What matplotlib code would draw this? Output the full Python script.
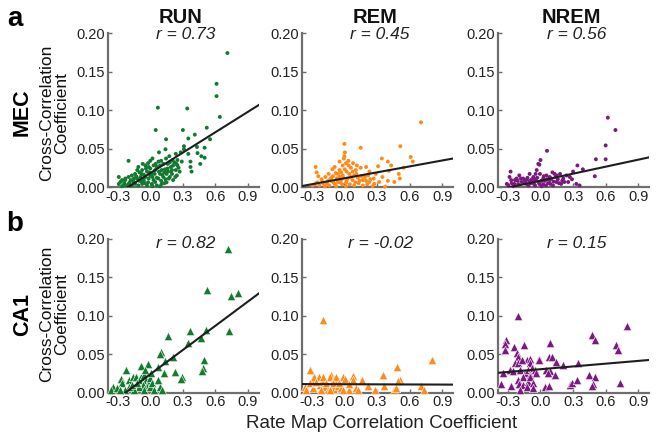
import numpy as np
import matplotlib
matplotlib.use("Agg")
import matplotlib.pyplot as plt

plt.rcParams['font.family'] = ['Liberation Sans', 'DejaVu Sans']

# --- data ------------------------------------------------------------------
regions = ['MEC', 'CA1']
states = ['RUN', 'REM', 'NREM']
r_values = [['0.73', '0.45', '0.56'], ['0.82', '-0.02', '0.15']]
xticks = [-0.3, 0.0, 0.3, 0.6, 0.9]
yticks = [0.00, 0.05, 0.10, 0.15, 0.20]

# regression lines (slope, intercept) as drawn in the figure
fit_slope = [[0.0885, 0.0257, 0.0303], [0.105, -0.0005, 0.012]]
fit_icpt = [[0.0181, 0.0113, 0.0082], [0.024, 0.011, 0.0305]]

# MEC, RUN
mec_run = [(0.71, 0.174), (0.61, 0.134), (0.61, 0.118), (0.64, 0.091), (0.07, 0.103), (0.34, 0.102),
           (0.05, 0.074), (0.30, 0.074), (0.52, 0.077), (0.145, 0.062), (0.41, 0.068), (0.35, 0.063),
           (0.55, 0.062), (0.31, 0.053), (0.43, 0.052), (0.31, 0.049), (0.14, 0.049), (0.50, 0.051),
           (0.35, 0.043), (0.435, 0.044), (0.47, 0.040), (0.145, 0.037), (0.235, 0.043), (0.50, 0.038),
           (0.205, 0.035), (0.175, 0.040), (-0.20, 0.034), (0.02, 0.037), (0.29, 0.033), (0.37, 0.033),
           (0.37, 0.026), (0.46, 0.030), (0.38, 0.020), (0.25, 0.028), (0.235, 0.022), (0.19, 0.026),
           (0.12, 0.030), (0.075, 0.033), (0.0, 0.034), (-0.015, 0.026), (0.045, 0.022), (0.09, 0.017),
           (0.135, 0.023), (0.20, 0.017), (0.245, 0.015), (-0.045, 0.028), (-0.11, 0.026), (-0.075, 0.022),
           (-0.03, 0.020), (0.015, 0.017), (-0.14, 0.017), (-0.17, 0.015), (-0.20, 0.013), (-0.23, 0.011),
           (-0.26, 0.009), (-0.275, 0.0065), (-0.29, 0.004), (-0.245, 0.002), (-0.20, 0.004), (-0.15, 0.0065),
           (-0.12, 0.011), (-0.09, 0.013), (-0.06, 0.009), (-0.015, 0.011), (0.03, 0.009), (0.075, 0.011),
           (0.12, 0.013), (0.17, 0.011), (0.21, 0.009), (0.105, 0.004), (0.06, 0.002), (0.015, 0.004),
           (-0.03, 0.002), (-0.075, 0.004), (-0.11, 0.002), (-0.14, 0.004), (-0.18, 0.009), (-0.215, 0.002),
           (0.045, 0.0065), (-0.045, 0.013), (0.0, 0.024), (0.06, 0.026), (0.15, 0.017), (0.18, 0.013),
           (0.105, 0.022), (-0.08, 0.017), (-0.12, 0.022), (-0.15, 0.011), (-0.26, 0.001), (-0.23, 0.009),
           (-0.29, 0.013), (0.09, 0.028), (0.16, 0.030), (0.22, 0.032), (0.26, 0.025), (-0.05, 0.005),
           (0.13, 0.005), (0.25, 0.035), (0.08, 0.045), (0.0, 0.015), (-0.10, 0.008), (0.10, 0.008),
           (0.20, 0.022), (0.05, 0.030), (-0.02, 0.006), (0.16, 0.020), (0.28, 0.045), (0.24, 0.030),
           (-0.16, 0.008), (-0.13, 0.014), (-0.10, 0.019), (-0.06, 0.016), (-0.04, 0.024), (-0.01, 0.019),
           (0.02, 0.013), (0.04, 0.017), (0.06, 0.012), (0.08, 0.020), (0.11, 0.016), (0.13, 0.019),
           (0.16, 0.024), (0.19, 0.020), (0.21, 0.028), (0.23, 0.013), (0.27, 0.020), (0.03, 0.028),
           (-0.07, 0.030), (-0.02, 0.031), (0.10, 0.034), (0.18, 0.032), (-0.24, 0.005), (-0.19, 0.006),
           (-0.17, 0.002), (-0.08, 0.007), (0.02, 0.001), (0.09, 0.001), (0.15, 0.006), (0.14, 0.010)]

# MEC, REM
mec_rem = [(0.705, 0.084), (0.0, 0.056), (0.15, 0.051), (0.515, 0.053), (0.61, 0.039), (0.63, 0.033),
           (0.345, 0.037), (0.0, 0.040), (-0.265, 0.026), (-0.255, 0.019), (-0.11, 0.023), (-0.09, 0.026),
           (-0.045, 0.033), (-0.015, 0.028), (0.015, 0.031), (0.003, 0.023), (0.037, 0.034), (0.06, 0.025),
           (0.115, 0.028), (0.15, 0.025), (0.20, 0.026), (0.23, 0.020), (0.31, 0.027), (0.40, 0.033),
           (0.43, 0.028), (0.545, 0.025), (0.50, 0.017), (0.51, 0.011), (0.41, 0.021), (0.46, 0.0065),
           (0.40, 0.008), (0.35, 0.013), (0.32, 0.0065), (0.275, 0.004), (0.24, 0.010), (0.19, 0.013),
           (0.17, 0.009), (0.125, 0.012), (0.09, 0.015), (0.075, 0.009), (0.045, 0.017), (0.03, 0.011),
           (-0.015, 0.015), (-0.045, 0.013), (-0.08, 0.018), (-0.12, 0.012), (-0.145, 0.017), (-0.175, 0.013),
           (-0.21, 0.010), (-0.24, 0.014), (-0.20, 0.0065), (-0.16, 0.005), (-0.12, 0.008), (-0.09, 0.004),
           (-0.06, 0.0065), (-0.02, 0.0035), (0.015, 0.0055), (0.05, 0.0035), (0.09, 0.002), (0.13, 0.005),
           (0.17, 0.002), (0.21, 0.0035), (0.26, 0.001), (0.375, 0.0005), (-0.27, 0.0035), (-0.295, 0.002),
           (-0.23, 0.002), (-0.18, 0.001), (-0.14, 0.002), (-0.075, 0.001), (-0.03, 0.009), (0.015, 0.001),
           (0.23, 0.0065), (0.105, 0.022), (0.075, 0.020), (-0.045, 0.022), (-0.105, 0.014), (-0.06, 0.017),
           (0.005, 0.045), (-0.005, 0.037), (-0.19, 0.004), (-0.13, 0.010), (-0.10, 0.006), (-0.07, 0.011),
           (-0.04, 0.006), (-0.01, 0.012), (0.02, 0.008), (0.06, 0.013), (0.10, 0.006), (0.11, 0.017),
           (0.14, 0.008), (0.16, 0.014), (0.20, 0.008), (0.22, 0.015), (0.27, 0.011), (0.29, 0.017),
           (0.02, 0.020), (-0.03, 0.019), (0.04, 0.028), (0.08, 0.031), (-0.25, 0.006), (-0.15, 0.008)]

# MEC, NREM
mec_nrem = [(0.62, 0.090), (0.69, 0.074), (0.60, 0.054), (0.60, 0.036), (0.51, 0.036), (0.06, 0.047),
            (0.34, 0.028), (0.39, 0.023), (0.50, 0.014), (-0.01, 0.029), (-0.275, 0.020), (-0.035, 0.022),
            (-0.195, 0.015), (-0.16, 0.011), (-0.10, 0.017), (-0.065, 0.013), (-0.005, 0.017), (0.025, 0.011),
            (0.055, 0.015), (0.085, 0.009), (0.11, 0.019), (0.14, 0.013), (0.18, 0.017), (0.21, 0.011),
            (0.24, 0.015), (0.255, 0.0065), (0.30, 0.020), (0.33, 0.004), (0.36, 0.002), (0.19, 0.004),
            (0.145, 0.0065), (0.115, 0.002), (0.07, 0.005), (0.025, 0.0035), (-0.02, 0.0065), (-0.06, 0.004),
            (-0.10, 0.008), (-0.13, 0.004), (-0.175, 0.0065), (-0.205, 0.0035), (-0.235, 0.009), (-0.265, 0.005),
            (-0.295, 0.002), (-0.25, 0.001), (-0.22, 0.011), (-0.145, 0.009), (-0.11, 0.002), (-0.08, 0.010),
            (-0.045, 0.010), (0.01, 0.001), (0.04, 0.008), (0.085, 0.013), (0.13, 0.017), (0.16, 0.010),
            (0.22, 0.0065), (0.27, 0.013), (0.29, 0.010), (-0.045, 0.017), (-0.31, 0.004), (-0.285, 0.013),
            (0.0, 0.035), (-0.02, 0.030), (-0.24, 0.004), (-0.21, 0.008), (-0.18, 0.011), (-0.15, 0.005),
            (-0.12, 0.012), (-0.09, 0.005), (-0.07, 0.008), (-0.03, 0.012), (-0.01, 0.004), (0.01, 0.008),
            (0.03, 0.014), (0.06, 0.010), (0.09, 0.004), (0.10, 0.011), (0.12, 0.007), (0.17, 0.005),
            (-0.13, 0.009), (-0.05, 0.002), (0.05, 0.002), (-0.27, 0.009), (0.15, 0.015), (0.20, 0.008)]

# CA1, RUN
ca1_run = [(0.711, 0.187), (0.525, 0.133), (0.745, 0.125), (0.812, 0.129), (0.727, 0.080), (0.513, 0.082),
           (0.363, 0.080), (0.351, 0.064), (0.467, 0.071), (0.165, 0.074), (0.101, 0.053), (0.089, 0.050),
           (0.140, 0.041), (0.211, 0.047), (0.497, 0.042), (0.485, 0.032), (0.479, 0.028), (0.229, 0.027),
           (0.296, 0.020), (0.284, 0.018), (0.125, 0.026), (0.073, 0.034), (-0.021, 0.037), (-0.082, 0.035),
           (-0.226, 0.030), (-0.272, 0.018), (-0.263, 0.013), (-0.345, 0.008), (-0.357, 0.003), (-0.305, 0.006),
           (-0.192, 0.016), (-0.156, 0.020), (-0.128, 0.021), (-0.107, 0.016), (-0.082, 0.020), (-0.058, 0.023),
           (-0.043, 0.016), (-0.021, 0.013), (-0.003, 0.019), (-0.027, 0.008), (-0.070, 0.010), (-0.107, 0.007),
           (-0.150, 0.004), (-0.198, 0.007), (-0.229, 0.003), (-0.168, 0.010), (-0.122, 0.012), (-0.061, 0.004),
           (-0.003, 0.008), (0.018, 0.012), (0.031, 0.003), (0.085, 0.007), (0.107, 0.003), (0.067, 0.016),
           (-0.049, 0.029), (0.003, 0.025), (-0.278, 0.003)]

# CA1, REM
ca1_rem = [(-0.198, 0.094), (0.809, 0.042), (0.485, 0.034), (0.351, 0.023), (0.076, 0.022), (0.159, 0.017),
           (0.510, 0.017), (0.491, 0.015), (0.360, 0.009), (0.217, 0.009), (0.278, 0.004), (0.461, 0.003),
           (0.473, 0.006), (0.705, 0.009), (0.730, 0.003), (-0.314, 0.029), (-0.302, 0.017), (-0.278, 0.021),
           (-0.235, 0.020), (-0.204, 0.016), (-0.198, 0.021), (-0.119, 0.023), (-0.137, 0.020), (-0.095, 0.018),
           (-0.076, 0.021), (-0.009, 0.021), (0.006, 0.018), (0.082, 0.016), (-0.363, 0.008), (-0.351, 0.004),
           (-0.290, 0.006), (-0.229, 0.010), (-0.183, 0.007), (-0.153, 0.004), (-0.122, 0.008), (-0.092, 0.005),
           (-0.061, 0.009), (-0.031, 0.006), (0.046, 0.004), (0.107, 0.006), (0.122, 0.003), (-0.168, 0.012),
           (-0.107, 0.013), (-0.046, 0.012), (-0.137, 0.003), (-0.214, 0.003), (-0.015, 0.003), (0.046, 0.011),
           (-0.321, 0.012), (-0.260, 0.014)]

# CA1, NREM
ca1_nrem = [(-0.208, 0.100), (0.794, 0.087), (0.476, 0.075), (0.504, 0.068), (0.092, 0.065), (0.693, 0.062),
            (0.711, 0.055), (-0.317, 0.068), (-0.324, 0.063), (-0.330, 0.056), (-0.241, 0.059), (-0.153, 0.062),
            (-0.220, 0.051), (-0.205, 0.047), (-0.128, 0.043), (-0.098, 0.044), (-0.092, 0.039), (-0.018, 0.044),
            (-0.012, 0.043), (0.079, 0.047), (0.110, 0.046), (0.147, 0.040), (0.208, 0.036), (0.345, 0.039),
            (-0.232, 0.038), (-0.208, 0.039), (-0.171, 0.043), (-0.342, 0.025), (-0.281, 0.029), (-0.256, 0.028),
            (-0.189, 0.029), (-0.143, 0.025), (-0.113, 0.029), (-0.082, 0.032), (-0.052, 0.030), (-0.043, 0.025),
            (-0.098, 0.023), (-0.159, 0.020), (-0.205, 0.016), (-0.195, 0.011), (-0.159, 0.010), (-0.113, 0.014),
            (-0.092, 0.020), (-0.073, 0.012), (-0.122, 0.007), (-0.067, 0.006), (-0.189, 0.004), (-0.360, 0.011),
            (-0.275, 0.009), (0.055, 0.030), (0.085, 0.028), (0.070, 0.025), (0.131, 0.023), (0.040, 0.007),
            (0.079, 0.009), (0.269, 0.010), (0.287, 0.012), (0.336, 0.016), (0.443, 0.023), (0.498, 0.020),
            (0.482, 0.011), (0.473, 0.009), (0.736, 0.012)]

panels = [[mec_run, mec_rem, mec_nrem], [ca1_run, ca1_rem, ca1_nrem]]
colors = ['#137a30', '#ff8a1c', '#7b1a7e']
markers = ['o', '^']
sizes = [8, 36]

# --- figure -----------------------------------------------------------------
fig = plt.figure(figsize=(6.58, 4.4), dpi=100)

col_left = [0.164, 0.459, 0.757]
row_bottom = [0.575, 0.1075]
ax_w, ax_h = 0.2295, 0.35
spine_col = '#6e6e6e'

for i in range(2):
    for j in range(3):
        ax = fig.add_axes([col_left[j], row_bottom[i], ax_w, ax_h])
        pts = np.array(panels[i][j])
        ax.scatter(pts[:, 0], pts[:, 1], s=sizes[i], marker=markers[i], color=colors[j],
                   edgecolors='white' if i == 1 else 'none', linewidths=0.4,
                   clip_on=False, zorder=3)
        xl = np.array([-0.39, 1.0])
        ax.plot(xl, fit_slope[i][j] * xl + fit_icpt[i][j], color='#1e1e1e', lw=1.5, zorder=4)
        ax.set_xlim(-0.39, 1.0)
        ax.set_ylim(0, 0.2)
        ax.set_xticks(xticks)
        ax.set_xticklabels(['%.1f' % t for t in xticks])
        ax.set_yticks(yticks)
        ax.set_yticklabels(['%.2f' % t for t in yticks])
        for side in ['top', 'right']:
            ax.spines[side].set_visible(False)
        for side in ['left', 'bottom']:
            ax.spines[side].set_color(spine_col)
            ax.spines[side].set_linewidth(1.6)
        ax.tick_params(direction='in', length=3, width=1, color=spine_col,
                       labelsize=10.5, labelcolor='#222222', pad=2)
        cx = col_left[j] + ax_w / 2
        ry = 0.921 if i == 0 else 0.446
        fig.text(cx + 0.004, ry, 'r = ' + r_values[i][j], style='italic', fontsize=12.5,
                 ha='center', va='center', color='#222222')

for j in range(3):
    fig.text(col_left[j] + ax_w / 2 - 0.004, 0.961, states[j], fontsize=14.5,
             fontweight='bold', ha='center', va='center', color='#111111')

fig.text(0.023, 0.956, 'a', fontsize=20, fontweight='bold', ha='center', va='center')
fig.text(0.023, 0.492, 'b', fontsize=20, fontweight='bold', ha='center', va='center')

label_y = [0.744, 0.286]
for i in range(2):
    fig.text(0.034, label_y[i], regions[i], rotation=90, fontsize=15.5, fontweight='bold',
             ha='center', va='center')
    fig.text(0.083, label_y[i], 'Cross-Correlation\nCoefficient', rotation=90, fontsize=12.5,
             ha='center', va='center', linespacing=1.0, color='#111111')

fig.text(0.58, 0.037, 'Rate Map Correlation Coefficient', fontsize=13.5,
         ha='center', va='center', color='#222222')

fig.savefig('out.png', dpi=100)
